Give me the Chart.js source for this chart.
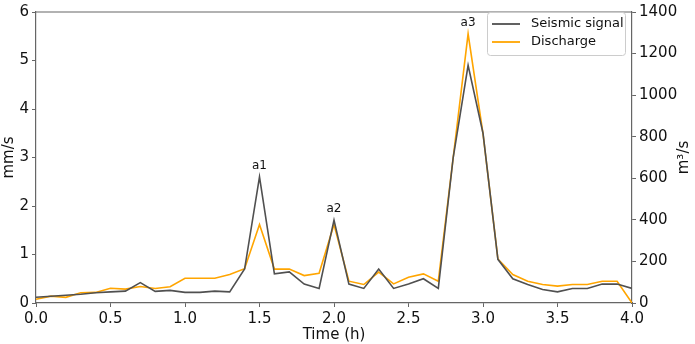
<!DOCTYPE html>
<html>
<head>
<meta charset="utf-8">
<script src="https://cdn.jsdelivr.net/npm/chart.js@4"></script>
<style>
  html, body { margin: 0; padding: 0; background: #fff; }
  #wrap { width: 695px; height: 344px; }
</style>
</head>
<body>
<div id="wrap"><canvas id="grafico" width="695" height="344"></canvas></div>
<script>
// Tiempo (h)
const tiempos = [0.0, 0.1, 0.2, 0.3, 0.4, 0.5, 0.6, 0.7, 0.8, 0.9,
                 1.0, 1.1, 1.2, 1.3, 1.4, 1.5, 1.6, 1.7, 1.8, 1.9,
                 2.0, 2.1, 2.2, 2.3, 2.4, 2.5, 2.6, 2.7, 2.8, 2.9,
                 3.0, 3.1, 3.2, 3.3, 3.4, 3.5, 3.6, 3.7, 3.8, 3.9,
                 4.0];

// Señal sísmica (mm/s)
const sismica = [0.12, 0.14, 0.16, 0.18, 0.21, 0.23, 0.245, 0.42, 0.24, 0.26,
                 0.22, 0.22, 0.245, 0.23, 0.7, 2.6, 0.6, 0.64, 0.39, 0.3,
                 1.71, 0.39, 0.3, 0.7, 0.3, 0.39, 0.5, 0.3, 3.0, 4.9,
                 3.5, 0.9, 0.5, 0.38, 0.28, 0.23, 0.3, 0.3, 0.39, 0.39,
                 0.3];

// Caudal (m3/s)
const caudal = [18, 33, 27, 49, 51, 71, 67, 79, 70, 78,
                119, 119, 119, 137, 165, 378, 163, 163, 132, 143,
                378, 105, 89, 149, 92, 124, 140, 105, 700, 1295,
                815, 212, 137, 105, 89, 81, 89, 89, 105, 105,
                0];

// Picos marcados
const picosNombre = ['a1', 'a2', 'a3'];
const picosTiempo = [1.5, 2.0, 2.9];

const colorSismica = '#505050';
const colorCaudal = '#ffa500';
const colorEje = '#666666';
const fuente = "'DejaVu Sans', sans-serif";

function puntos(valores) {
    return tiempos.map((t, i) => ({ x: t, y: valores[i] }));
}

// Marco, título derecho, etiquetas de picos y leyenda con caja
const extras = {
    id: 'extras',
    afterDraw(chart) {
        const c = chart.ctx;
        const a = chart.chartArea;
        const sx = chart.scales.x, yl = chart.scales.y, yr = chart.scales.y1;
        c.save();
        // marco superior
        c.strokeStyle = colorEje;
        c.lineWidth = 1.2;
        c.beginPath();
        c.moveTo(a.left, a.top);
        c.lineTo(a.right, a.top);
        c.stroke();

        // título del eje derecho (se lee de abajo arriba)
        c.fillStyle = '#111';
        c.font = '15px ' + fuente;
        c.textAlign = 'center';
        c.textBaseline = 'middle';
        c.translate(684, (a.top + a.bottom) / 2);
        c.rotate(-Math.PI / 2);
        c.fillText('m³/s', 0, 0);
        c.setTransform(1, 0, 0, 1, 0, 0);

        // etiquetas a1, a2, a3
        c.font = '12px ' + fuente;
        c.textAlign = 'center';
        c.textBaseline = 'bottom';
        picosTiempo.forEach((t, k) => {
            const i = tiempos.indexOf(t);
            const px = sx.getPixelForValue(t);
            const py = Math.min(yl.getPixelForValue(sismica[i]), yr.getPixelForValue(caudal[i]));
            c.fillText(picosNombre[k], px, py - 5);
        });

        // leyenda
        const lx = 487, ly = 12, lw = 138, lh = 43;
        c.fillStyle = 'rgba(255,255,255,0.85)';
        c.strokeStyle = '#cccccc';
        c.lineWidth = 1;
        c.beginPath();
        c.roundRect(lx + 0.5, ly + 0.5, lw, lh, 3);
        c.fill();
        c.stroke();
        c.font = '13px ' + fuente;
        c.textAlign = 'left';
        c.textBaseline = 'middle';
        chart.data.datasets.forEach((ds, k) => {
            const yy = ly + 12 + k * 18;
            c.strokeStyle = ds.borderColor;
            c.lineWidth = 1.8;
            c.beginPath();
            c.moveTo(lx + 5, yy);
            c.lineTo(lx + 33, yy);
            c.stroke();
            c.fillStyle = '#111';
            c.fillText(ds.label, lx + 44, yy);
        });
        c.restore();
    }
};

const ctx = document.getElementById('grafico').getContext('2d');
const grafico = new Chart(ctx, {
    type: 'line',
    data: {
        datasets: [
            {
                label: 'Seismic signal',
                data: puntos(sismica),
                borderColor: colorSismica,
                borderWidth: 1.6,
                pointRadius: 0,
                fill: false,
                yAxisID: 'y'
            },
            {
                label: 'Discharge',
                data: puntos(caudal),
                borderColor: colorCaudal,
                borderWidth: 1.6,
                pointRadius: 0,
                fill: false,
                yAxisID: 'y1'
            }
        ]
    },
    options: {
        responsive: false,
        animation: false,
        layout: { padding: { top: 7, left: 0, right: 0, bottom: 0 } },
        plugins: {
            legend: { display: false },
            tooltip: { enabled: false }
        },
        scales: {
            x: {
                type: 'linear',
                min: 0,
                max: 4,
                border: { display: true, color: colorEje, width: 1.2 },
                grid: { display: true, drawOnChartArea: false, tickLength: 4, color: colorEje },
                ticks: {
                    stepSize: 0.5,
                    padding: 3,
                    color: '#111',
                    font: { family: fuente, size: 15 },
                    maxRotation: 0,
                    callback: v => v.toFixed(1)
                },
                title: {
                    display: true,
                    text: 'Time (h)',
                    color: '#111',
                    font: { family: fuente, size: 15 },
                    padding: { top: 0, bottom: 0 }
                },
                afterFit(s) { s.height = 41; }
            },
            y: {
                position: 'left',
                min: 0,
                max: 6,
                border: { display: true, color: colorEje, width: 1.2 },
                grid: { display: true, drawOnChartArea: false, tickLength: 4, color: colorEje },
                ticks: {
                    stepSize: 1,
                    padding: 3,
                    color: '#111',
                    font: { family: fuente, size: 15 }
                },
                title: {
                    display: true,
                    text: 'mm/s',
                    color: '#111',
                    font: { family: fuente, size: 15 },
                    padding: { top: 0, bottom: 0 }
                },
                afterFit(s) { s.width = 36; }
            },
            y1: {
                position: 'right',
                min: 0,
                max: 1400,
                border: { display: true, color: colorEje, width: 1.2 },
                grid: { display: true, drawOnChartArea: false, tickLength: 4, color: colorEje },
                ticks: {
                    stepSize: 200,
                    padding: 3,
                    color: '#111',
                    font: { family: fuente, size: 15 },
                    callback: v => String(v)
                },
                afterFit(s) { s.width = 63; }
            }
        }
    },
    plugins: [extras]
});
</script>
</body>
</html>
